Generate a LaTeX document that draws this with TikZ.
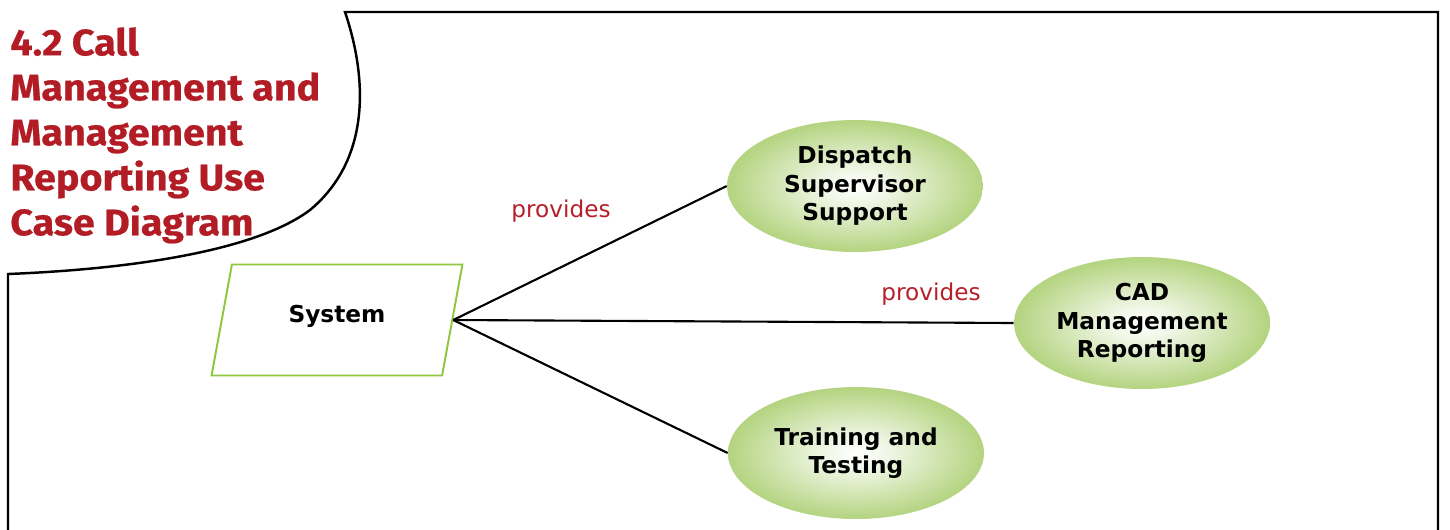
\documentclass[tikz,border=0pt]{standalone}
\usepackage{fontspec}
\setmainfont{DejaVu Sans}
\newfontfamily\titlefont[FakeStretch=1.07,FakeBold=0.6]{Fira Sans}
\usetikzlibrary{shapes.geometric}
\definecolor{ucgreen}{RGB}{138,188,58}
\definecolor{boxgreen}{RGB}{141,198,63}
\definecolor{titlered}{RGB}{178,28,36}
\definecolor{labelred}{RGB}{181,32,42}
\pgfdeclareradialshading{ucshade}{\pgfpoint{0bp}{0bp}}{color(0bp)=(white); color(6bp)=(ucgreen!12); color(24bp)=(ucgreen!62); color(44bp)=(ucgreen)}

\begin{document}
\begin{tikzpicture}[x=0.02cm,y=-0.02cm,
    usecase/.style={ellipse,shading=ucshade,minimum width=5.12cm,minimum height=2.64cm,
        align=center,inner sep=0pt,font=\bfseries\fontsize{13.25}{16.2}\selectfont},
    sysbox/.style={trapezium,trapezium left angle=76,trapezium right angle=104,
        trapezium stretches=true,minimum width=5.04cm,minimum height=2.22cm,
        draw=boxgreen,line width=1.1pt,font=\bfseries\fontsize{13.25}{16.2}\selectfont},
    lbl/.style={text=labelred,font=\fontsize{13.2}{16}\selectfont},
    conn/.style={line width=1.2pt}]
    \useasboundingbox (0,0) rectangle (1450,529);

    \draw [line width=1.4pt] (8,545) -- (8,274)
        .. controls (110,270) and (250,255) .. (310,210)
        .. controls (370,160) and (368,80) .. (345,12)
        -- (1438,12) -- (1438,545); %枠

    \node [anchor=north west,align=left,inner sep=0pt,text=titlered,
        font=\titlefont\bfseries\fontsize{21}{25.6}\selectfont] (title) at (10,27)
        {4.2 Call\\Management and\\Management\\Reporting Use\\Case Diagram}; %見出し

    \node [sysbox] (sys) at (337,320) {\raisebox{0pt}[\height][\dimexpr\depth+4.6pt]{System}};
    \node [usecase] (dss) at (855,186) {Dispatch\\Supervisor\\Support};
    \node [usecase] (cad) at (1142,323) {CAD\\Management\\Reporting};
    \node [usecase] (trn) at (856,453) {Training and\\Testing};

    \draw [conn] (sys.east) -- (dss.west);
    \draw [conn] (sys.east) -- (cad.west);
    \draw [conn] (sys.east) -- (trn.west);

    \node [lbl] (pv1) at (561,211) {provides};
    \node [lbl] (pv2) at (931,294) {provides};
\end{tikzpicture}
\end{document}
